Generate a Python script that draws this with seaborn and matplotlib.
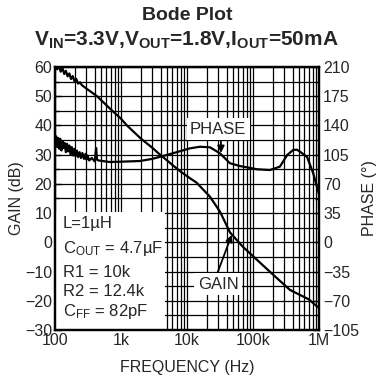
import matplotlib
matplotlib.use('Agg')
import matplotlib.pyplot as plt
from matplotlib.ticker import MultipleLocator, FixedLocator, NullFormatter
from matplotlib.patches import Rectangle
import seaborn as sns

# --- data ---
freq_gain = [100, 108, 115, 122, 130, 138, 146, 155, 165, 175, 186, 198, 210, 225, 240, 255,
             300, 433, 700, 1000, 1230, 2000, 3000, 3900, 4330, 6000, 8000, 11000, 14000,
             22300, 31600, 44800, 70000, 115000, 200000, 364000, 515000, 700000, 1000000]
gain_db = [60.5, 59.2, 60.3, 58.4, 59.6, 57.6, 58.7, 56.8, 57.8, 55.9, 56.9, 55.0, 55.9, 54.3, 54.8, 53.8,
           52.6, 50.0, 45.5, 42.3, 40.0, 35.5, 32.3, 30.0, 29.2, 26.5, 24.2, 22.0, 20.4,
           15.6, 10.5, 3.4, -1.5, -6.0, -11.0, -16.3, -18.0, -19.5, -22.5]

freq_phase = [100, 104, 108, 112, 116, 120, 125, 130, 135, 140, 146, 152, 158, 165, 172, 180,
              188, 196, 205, 215, 225, 236, 248, 260, 275, 290, 300, 310, 330, 360, 400, 420, 433,
              460, 681, 1000, 1940, 3000, 4330, 7000, 11100, 15800, 22300, 31600, 44800, 63300,
              115000, 180000, 255000, 330000, 405000, 460000, 515000, 660000, 815000, 960000, 1000000]
phase_deg = [118, 127, 114, 125, 112, 124, 110, 121, 113, 119, 108, 118, 109, 116, 105, 114,
             104, 112, 103, 110, 102, 108, 101, 107, 100, 106, 99, 104, 98, 101, 97, 113, 99,
             98, 96.2, 96.6, 97.4, 100, 103.4, 108, 112.6, 114.5, 113.8, 106.6, 94.7, 91.4,
             87.5, 86.6, 90.6, 104.6, 110.6, 111, 108.6, 102.2, 83, 62.7, 58]

gain_ticks = list(range(-30, 61, 10))
phase_ticks = list(range(-105, 211, 35))
freq_ticks = [1e2, 1e3, 1e4, 1e5, 1e6]
freq_labels = ['100', '1k', '10k', '100k', '1M']
conditions = ['L=1µH', r'C$_{\mathregular{OUT}}$ = 4.7µF', 'R1 = 10k', 'R2 = 12.4k',
              r'C$_{\mathregular{FF}}$ = 82pF']
cond_y = [228, 253, 277, 296, 316]

sns.set_style('white')
plt.rcParams['font.family'] = ['Liberation Sans', 'DejaVu Sans']
plt.rcParams['mathtext.fontset'] = 'custom'
plt.rcParams['mathtext.rm'] = 'Liberation Sans'
plt.rcParams['mathtext.bf'] = 'Liberation Sans:bold'
plt.rcParams['mathtext.it'] = 'Liberation Sans'
plt.rcParams['mathtext.default'] = 'regular'

W, H = 379, 377
fig = plt.figure(figsize=(W / 100, H / 100), dpi=100)
ax = fig.add_axes([55 / W, 47 / H, 264 / W, 263 / H])
ax2 = ax.twinx()

sns.lineplot(x=freq_gain, y=gain_db, ax=ax, color='black', lw=1.6, sort=False)
sns.lineplot(x=freq_phase, y=phase_deg, ax=ax2, color='black', lw=1.6, sort=False)

ax.set_xscale('log')
ax.set_xlim(1e2, 1e6)
ax.set_ylim(-30, 60)
ax2.set_ylim(-105, 210)
ax.xaxis.set_major_locator(FixedLocator(freq_ticks))
ax.set_xticklabels(freq_labels)
ax.xaxis.set_minor_formatter(NullFormatter())
ax.set_yticks(gain_ticks)
ax.yaxis.set_minor_locator(MultipleLocator(5))
ax2.set_yticks(phase_ticks)
ax2.yaxis.set_minor_locator(MultipleLocator(17.5))

ax.set_axisbelow(True)
ax.grid(which='both', color='black', lw=0.9)
for a in (ax, ax2):
    a.tick_params(which='both', direction='in', labelsize=11.5, length=4, width=1, color='black')
    a.tick_params(which='minor', length=3)
    for s in a.spines.values():
        s.set_linewidth(1.6)
        s.set_color('black')
ax.tick_params(axis='y', pad=2)
ax.tick_params(axis='x', pad=2)
ax2.tick_params(axis='y', pad=3)

ax.set_xlabel('FREQUENCY (Hz)', fontsize=11.5, labelpad=9)
ax.set_ylabel('GAIN (dB)', fontsize=11.5, labelpad=1)
ax2.set_ylabel('PHASE (°)', fontsize=11.5, labelpad=2)

# white box with the conditions
ax.add_patch(Rectangle((0, 0), (165 - 55) / 264, (330 - 212) / 263, transform=ax.transAxes,
                       facecolor='white', edgecolor='none', zorder=1))
for txt, yp in zip(conditions, cond_y):
    ax.text((63 - 55) / 264, (330 - yp) / 263, txt, transform=ax.transAxes, fontsize=12,
            va='baseline', ha='left', zorder=3)

# curve labels
box = dict(facecolor='white', edgecolor='none', boxstyle='square,pad=0.2')
ax2.annotate('PHASE', xy=(3.27e4, 107), xytext=(2.96e4, 135.7), fontsize=12, ha='center', va='center',
             bbox=box, arrowprops=dict(arrowstyle='-|>', color='black', lw=1.3, shrinkA=0, shrinkB=0,
                                        mutation_scale=10, relpos=(0.55, 0)))
ax.annotate('GAIN', xy=(4.77e4, 2.6), xytext=(2.96e4, -14.3), fontsize=12, ha='center', va='center',
            bbox=box, arrowprops=dict(arrowstyle='-|>', color='black', lw=1.3, shrinkA=0, shrinkB=0,
                                       mutation_scale=10, relpos=(0.45, 1)))

fig.text(187 / W, 1 - 16 / H, 'Bode Plot', fontsize=14, fontweight='bold', ha='center', va='center')
fig.text(186 / W, 1 - 46 / H,
         r'V$_{\mathbf{IN}}$=3.3V,V$_{\mathbf{OUT}}$=1.8V,I$_{\mathbf{OUT}}$=50mA',
         fontsize=15, fontweight='bold', ha='center', va='baseline')

fig.savefig('out.png', dpi=100)
